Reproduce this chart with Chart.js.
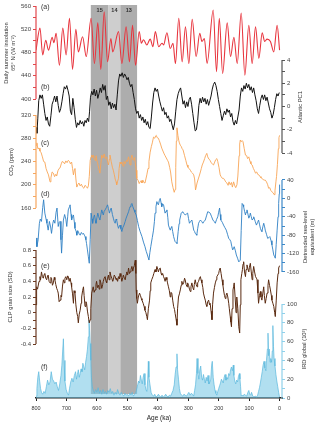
<!DOCTYPE html>
<html>
<head>
<meta charset="utf-8">
<script src="https://cdn.jsdelivr.net/npm/chart.js@4.4.0/dist/chart.umd.min.js"></script>
<style>
  body { margin: 0; background: #fff; }
  #wrap { position: relative; width: 320px; height: 425px; }
  #wrap canvas { position: absolute; left: 0; top: 0; }
</style>
</head>
<body>
<div id="wrap">
  <canvas id="cBase" width="320" height="425"></canvas>
  <canvas id="cA" width="320" height="425"></canvas>
  <canvas id="cB" width="320" height="425"></canvas>
  <canvas id="cC" width="320" height="425"></canvas>
  <canvas id="cD" width="320" height="425"></canvas>
  <canvas id="cE" width="320" height="425"></canvas>
</div>
<script>
// ---- data, [age ka, value] ----
const insolation = [[800,484],[787,522],[778,476],[768,501],[759,484],[747,506],[741,497],[734,513],[723,458],[712,522],[701,476],[690,539],[680,451],[669,520],[661,481],[647,507],[635,473],[619,539],[608,461],[597,531],[587,451],[576,550],[565,464],[554,504],[548,481],[529,516],[518,461],[504,524],[493,464],[483,527],[473,458],[461,516],[454,496],[447,502],[436,493],[425,503],[416,490],[408,516],[397,490],[386,496],[381,493],[370,514],[359,487],[350,496],[342,461],[331,539],[320,464],[309,524],[298,461],[287,537],[274,473],[262,513],[255,499],[247,504],[238,461],[218,553],[207,447],[198,539],[187,444],[172,531],[161,473],[150,506],[139,461],[126,548],[114,441],[101,527],[90,461],[79,524],[68,470],[57,514],[49,499],[41,503],[30,499],[19,481],[8,527],[0,484]];

const atlanticPC1 = [[800,-1.8],[797,-2.3],[794,-1.0],[791,0.5],[787,1.0],[783,0.7],[779,1.0],[775,0.2],[771,-0.6],[767,-1.2],[763,-0.9],[759,-1.5],[755,-1.7],[751,-0.8],[747,0.2],[743,0.5],[739,0.9],[735,0.4],[731,0.9],[727,0.1],[723,-0.5],[719,-0.2],[715,0.4],[711,1.1],[707,1.7],[703,1.5],[699,1.8],[695,1.4],[691,0.9],[687,-0.4],[683,-0.7],[679,0.7],[675,-0.1],[671,-1.1],[667,-1.8],[663,-1.4],[659,-1.6],[655,-1.2],[651,-1.5],[647,-1.3],[643,-1.7],[639,-1.2],[635,-1.4],[631,-1.0],[627,-1.3],[624,-0.4],[621,0.8],[617,1.3],[613,1.0],[609,1.5],[605,0.9],[601,1.4],[597,0.7],[593,1.1],[589,1.6],[585,1.2],[581,1.9],[577,1.4],[573,1.8],[569,0.6],[565,0.9],[561,0.1],[557,0.4],[553,-0.2],[549,0.3],[545,-0.1],[541,0.2],[537,-0.3],[533,1.0],[529,2.2],[525,2.8],[521,2.6],[517,2.9],[513,2.5],[509,2.8],[505,2.6],[501,2.3],[497,2.5],[493,2.0],[489,1.7],[485,1.9],[481,1.2],[477,0.6],[473,-0.2],[469,-0.6],[465,-0.4],[461,-1.0],[457,-0.7],[453,-1.2],[449,-0.9],[445,-1.4],[441,-1.1],[437,-1.6],[433,-1.3],[429,-1.8],[425,-1.9],[421,-0.9],[417,0.3],[413,1.2],[409,1.6],[405,1.3],[401,1.5],[397,0.9],[393,0.4],[389,0.0],[385,-0.4],[381,-0.1],[377,-0.7],[373,-0.5],[369,-1.0],[365,-0.8],[361,-1.3],[357,-1.1],[353,-1.6],[349,-2.0],[345,-1.5],[341,-0.4],[337,0.6],[333,1.1],[329,1.4],[325,1.6],[321,0.9],[317,0.2],[313,0.5],[309,-0.1],[305,0.4],[301,0.0],[297,0.6],[293,0.8],[289,0.2],[285,-0.6],[281,-1.4],[277,-2.1],[273,-2.0],[269,-1.2],[265,0.1],[261,0.7],[257,0.3],[253,0.8],[249,0.4],[245,0.7],[241,0.2],[237,0.6],[233,0.1],[229,0.5],[225,0.9],[221,1.5],[217,1.9],[213,2.1],[209,1.8],[205,1.3],[201,0.6],[197,0.0],[193,-0.6],[189,-1.2],[185,-0.8],[181,-0.4],[177,-0.7],[173,-0.2],[169,-0.5],[165,-0.3],[161,-0.9],[157,-0.6],[153,-1.3],[149,-1.6],[145,-1.2],[141,-1.5],[137,-0.9],[133,-0.3],[129,0.9],[125,1.6],[121,1.3],[117,1.8],[113,1.5],[109,2.0],[105,1.6],[101,1.9],[97,1.4],[93,1.7],[89,1.2],[85,1.6],[81,1.0],[77,0.5],[73,-0.2],[69,-0.6],[65,0.1],[61,0.7],[57,1.0],[53,0.6],[49,1.0],[45,0.5],[41,0.8],[37,0.3],[33,-0.2],[29,-0.5],[25,-1.0],[21,-0.7],[17,-0.1],[13,0.6],[9,1.1],[5,0.9],[1,1.2]];

const co2 = [[800,268],[797,272],[794,262],[790,263],[787,258],[783,255],[779,248],[775,240],[771,239],[767,228],[763,222],[759,217],[756,210],[754,205],[751,212],[747,222],[743,220],[739,214],[735,218],[732,215],[728,224],[724,228],[721,229],[717,236],[714,240],[710,239],[706,236],[702,241],[698,238],[694,242],[690,240],[687,236],[683,239],[680,228],[677,217],[674,226],[672,228],[669,210],[666,196],[663,200],[659,203],[655,198],[651,201],[647,196],[643,194],[639,199],[635,197],[631,194],[628,198],[625,214],[622,242],[619,248],[617,251],[614,247],[612,251],[609,245],[606,242],[603,250],[601,244],[598,238],[594,228],[590,220],[587,236],[584,251],[580,246],[576,253],[572,245],[568,248],[565,240],[562,234],[559,244],[557,251],[553,240],[549,230],[546,225],[543,218],[540,210],[537,205],[535,200],[532,206],[529,211],[527,228],[524,239],[521,236],[518,239],[514,232],[511,240],[507,236],[503,242],[500,240],[496,248],[493,240],[491,234],[488,245],[485,251],[482,244],[479,242],[476,247],[474,239],[471,225],[469,211],[465,208],[461,202],[458,205],[455,207],[452,203],[449,208],[446,204],[442,203],[439,210],[436,217],[432,228],[429,240],[425,256],[421,266],[418,272],[414,282],[410,280],[407,284],[405,285],[402,281],[398,280],[395,276],[391,270],[387,263],[383,258],[379,253],[376,250],[372,246],[368,242],[365,239],[361,230],[358,222],[354,205],[350,195],[346,187],[343,192],[341,230],[339,275],[337,298],[334,285],[331,276],[329,272],[326,268],[323,266],[320,262],[317,260],[315,260],[312,250],[308,242],[304,234],[301,230],[297,228],[293,225],[290,222],[286,220],[282,217],[279,210],[276,191],[273,198],[271,203],[267,210],[264,215],[260,222],[257,228],[254,234],[250,239],[246,245],[243,250],[239,254],[236,248],[232,244],[228,242],[225,238],[221,236],[217,234],[213,239],[210,243],[206,245],[203,240],[199,230],[195,217],[192,214],[188,211],[184,211],[180,208],[177,205],[173,203],[169,199],[166,205],[162,200],[158,204],[155,196],[151,205],[147,198],[144,195],[140,200],[137,215],[133,250],[131,270],[129,277],[126,274],[123,276],[120,274],[116,262],[112,251],[108,250],[105,245],[101,248],[97,240],[94,236],[90,234],[86,228],[83,225],[79,220],[75,222],[72,218],[68,217],[64,214],[61,212],[58,211],[54,209],[50,208],[47,208],[43,205],[39,200],[36,194],[32,195],[29,190],[25,188],[21,186],[18,183],[15,190],[12,205],[10,214],[7,235],[4,262],[2,281],[0,285]];

const seaLevel = [[800,-86],[797,-105],[793,-90],[789,-55],[786,-45],[782,-50],[778,-20],[775,-3],[771,-32],[767,-45],[764,-54],[760,-69],[756,-50],[752,-62],[749,-76],[745,-55],[742,-47],[738,-54],[734,-30],[731,-21],[727,-61],[724,-52],[721,-50],[718,-90],[716,-119],[713,-80],[710,-47],[706,-35],[702,-45],[699,-61],[696,-40],[694,-25],[690,-18],[688,-14],[685,-35],[683,-47],[680,-40],[677,-36],[674,-52],[672,-65],[668,-72],[666,-80],[663,-70],[661,-72],[658,-78],[655,-80],[651,-74],[647,-78],[644,-76],[641,-80],[639,-83],[636,-90],[634,-98],[631,-112],[628,-127],[625,-141],[622,-90],[619,-32],[616,-45],[614,-54],[611,-42],[608,-36],[605,-48],[603,-54],[600,-42],[597,-32],[594,-40],[590,-47],[587,-35],[584,-25],[581,-32],[579,-36],[576,-28],[573,-25],[569,-20],[565,-14],[562,-22],[559,-32],[556,-26],[553,-21],[549,-35],[546,-43],[543,-50],[540,-54],[537,-45],[535,-47],[532,-58],[529,-65],[526,-60],[524,-58],[521,-66],[518,-72],[515,-64],[511,-58],[507,-50],[504,-43],[500,-36],[496,-29],[493,-22],[491,-18],[488,-14],[485,-11],[482,-18],[478,-25],[475,-30],[471,-36],[467,-48],[463,-61],[458,-72],[452,-83],[447,-95],[442,-105],[438,-115],[434,-123],[429,-134],[426,-118],[423,-105],[418,-85],[414,-69],[411,-50],[409,-32],[406,-18],[403,-7],[400,-12],[398,-14],[395,-5],[392,0],[389,-10],[387,-18],[384,-12],[381,-14],[378,-25],[376,-32],[373,-28],[370,-25],[367,-42],[365,-58],[362,-64],[359,-69],[356,-63],[354,-61],[351,-72],[348,-83],[345,-90],[343,-94],[340,-96],[337,-98],[333,-72],[330,-55],[328,-47],[325,-38],[323,-32],[320,-30],[318,-29],[314,-33],[310,-36],[306,-34],[302,-32],[299,-44],[296,-54],[292,-50],[288,-47],[285,-58],[282,-69],[279,-72],[277,-76],[274,-78],[272,-80],[269,-66],[266,-54],[263,-50],[260,-47],[256,-50],[252,-54],[248,-50],[244,-47],[240,-38],[236,-29],[232,-30],[228,-32],[223,-40],[219,-47],[215,-50],[211,-54],[207,-46],[203,-40],[200,-30],[197,-21],[195,-35],[193,-47],[188,-52],[184,-58],[180,-63],[175,-69],[171,-78],[167,-87],[163,-90],[160,-94],[157,-104],[154,-112],[151,-108],[149,-105],[145,-114],[142,-123],[138,-130],[134,-138],[131,-136],[129,-134],[126,-70],[123,-11],[120,-14],[118,-18],[115,-28],[112,-36],[110,-30],[107,-25],[104,-34],[101,-43],[98,-38],[96,-32],[93,-40],[90,-47],[87,-44],[85,-40],[80,-50],[76,-58],[72,-52],[69,-47],[66,-56],[63,-65],[60,-70],[58,-72],[55,-62],[52,-54],[49,-62],[47,-69],[43,-78],[39,-87],[35,-85],[32,-83],[28,-92],[25,-101],[22,-112],[19,-123],[16,-127],[14,-130],[11,-100],[8,-69],[5,-40],[3,-11],[1,10],[0,30]];

const grainSize = [[800,0.10],[798,0.33],[795,0.30],[793,0.34],[790,0.40],[787,0.46],[785,0.42],[782,0.52],[779,0.46],[776,0.44],[773,0.49],[771,0.50],[768,0.44],[765,0.42],[762,0.47],[760,0.48],[757,0.40],[754,0.38],[751,0.45],[749,0.44],[746,0.35],[743,0.38],[740,0.45],[738,0.42],[735,0.36],[732,0.31],[729,0.28],[727,0.25],[724,0.14],[721,0.16],[718,0.22],[716,0.20],[713,0.34],[710,0.42],[707,0.38],[705,0.44],[702,0.46],[699,0.42],[696,0.47],[694,0.46],[691,0.40],[688,0.44],[685,0.38],[683,0.33],[680,0.24],[677,0.12],[675,0.28],[672,0.25],[669,0.10],[666,0.00],[663,-0.05],[661,-0.13],[658,-0.02],[655,0.03],[652,0.12],[650,0.20],[647,0.28],[644,0.33],[642,0.22],[639,0.08],[636,0.14],[634,0.12],[631,0.02],[628,-0.05],[625,-0.13],[622,-0.09],[620,0.05],[617,0.25],[614,0.30],[612,0.33],[609,0.26],[606,0.29],[603,0.36],[601,0.40],[598,0.32],[595,0.35],[592,0.30],[590,0.42],[587,0.38],[584,0.31],[581,0.36],[579,0.40],[576,0.44],[573,0.46],[570,0.40],[568,0.38],[565,0.44],[562,0.48],[560,0.42],[557,0.52],[554,0.47],[551,0.44],[548,0.40],[546,0.42],[543,0.48],[540,0.46],[537,0.42],[535,0.44],[532,0.40],[529,0.46],[526,0.43],[524,0.50],[521,0.46],[518,0.40],[515,0.45],[513,0.48],[510,0.44],[507,0.42],[504,0.49],[502,0.52],[499,0.48],[496,0.57],[493,0.50],[491,0.52],[488,0.55],[485,0.59],[482,0.53],[480,0.57],[477,0.60],[474,0.67],[472,0.50],[471,0.29],[469,0.18],[467,0.12],[464,0.20],[460,0.25],[457,0.22],[454,0.18],[452,0.16],[448,0.12],[445,0.08],[442,0.03],[439,0.00],[436,-0.05],[434,-0.09],[431,0.05],[427,0.16],[425,0.28],[423,0.38],[420,0.42],[416,0.46],[413,0.50],[409,0.55],[406,0.52],[403,0.59],[400,0.55],[398,0.52],[395,0.56],[392,0.57],[389,0.50],[387,0.48],[384,0.50],[381,0.46],[378,0.43],[376,0.40],[373,0.45],[370,0.42],[368,0.38],[365,0.33],[362,0.28],[359,0.20],[357,0.26],[354,0.25],[351,0.16],[348,0.08],[345,0.04],[343,-0.01],[340,-0.08],[337,-0.16],[335,0.05],[332,0.20],[329,0.24],[326,0.29],[323,0.35],[321,0.40],[318,0.36],[315,0.38],[312,0.44],[310,0.42],[307,0.36],[304,0.33],[302,0.38],[299,0.35],[296,0.30],[293,0.27],[291,0.33],[288,0.38],[285,0.32],[282,0.29],[280,0.36],[277,0.42],[274,0.36],[271,0.33],[269,0.38],[266,0.40],[263,0.44],[260,0.46],[258,0.42],[255,0.38],[252,0.32],[250,0.25],[247,0.20],[244,0.16],[241,0.10],[239,0.08],[236,0.14],[233,0.16],[230,0.10],[228,0.12],[225,0.02],[222,-0.09],[220,0.10],[217,0.25],[214,0.32],[211,0.38],[208,0.42],[206,0.46],[203,0.48],[200,0.50],[198,0.54],[195,0.57],[192,0.50],[189,0.42],[186,0.35],[184,0.29],[181,0.22],[178,0.18],[176,0.22],[173,0.25],[170,0.20],[167,0.12],[165,0.05],[162,-0.05],[160,-0.12],[158,-0.18],[156,0.05],[153,0.29],[151,0.33],[149,0.38],[146,0.20],[143,0.00],[141,0.12],[140,0.20],[137,0.05],[134,-0.18],[131,-0.26],[129,0.10],[127,0.42],[124,0.50],[122,0.55],[120,0.62],[118,0.65],[115,0.52],[112,0.46],[110,0.55],[107,0.61],[104,0.56],[101,0.52],[99,0.58],[96,0.63],[93,0.52],[90,0.42],[88,0.50],[85,0.59],[82,0.52],[79,0.46],[76,0.44],[74,0.42],[71,0.25],[69,0.12],[66,0.22],[63,0.27],[61,0.20],[58,0.16],[55,0.25],[52,0.33],[50,0.22],[47,0.12],[44,0.18],[41,0.25],[38,0.35],[36,0.42],[33,0.35],[30,0.29],[27,0.22],[25,0.16],[22,0.12],[19,0.08],[16,0.00],[14,-0.05],[11,0.15],[8,0.38],[5,0.50],[3,0.57],[0,0.60]];

const ird = [[800,2],[797,10],[794,22],[791,28],[788,18],[785,10],[782,6],[778,4],[774,7],[770,5],[766,12],[762,19],[758,14],[754,17],[750,28],[746,20],[742,18],[738,15],[734,17],[730,12],[726,8],[722,15],[718,24],[715,35],[712,52],[710,63],[708,40],[705,18],[701,9],[697,5],[693,3],[690,10],[686,17],[682,21],[678,17],[674,24],[670,28],[667,20],[664,25],[661,30],[658,22],[655,26],[652,31],[649,28],[646,37],[643,33],[640,30],[637,38],[634,44],[631,52],[628,65],[626,83],[624,72],[622,58],[620,40],[618,22],[615,12],[612,8],[608,5],[604,9],[600,6],[596,11],[592,5],[588,8],[584,4],[580,9],[576,5],[572,7],[568,4],[564,8],[560,6],[556,10],[552,5],[548,7],[544,3],[540,6],[536,4],[532,9],[528,5],[524,3],[520,6],[516,4],[512,2],[508,5],[504,3],[500,4],[496,2],[492,5],[488,3],[484,6],[480,2],[476,4],[472,6],[469,10],[466,14],[463,18],[460,16],[457,24],[454,19],[451,15],[448,22],[445,26],[442,14],[439,9],[436,7],[433,20],[431,39],[429,22],[426,15],[422,6],[418,3],[414,2],[410,4],[406,1],[402,2],[398,4],[394,2],[390,1],[386,3],[382,1],[378,2],[374,4],[370,2],[366,1],[362,3],[358,2],[354,5],[350,8],[346,14],[343,25],[340,33],[337,47],[335,30],[332,20],[329,10],[326,5],[322,3],[318,2],[314,4],[310,3],[306,2],[302,4],[298,6],[294,3],[290,5],[286,4],[282,2],[279,8],[276,14],[273,26],[271,42],[268,26],[265,20],[262,30],[259,34],[256,22],[253,19],[250,25],[247,20],[244,16],[241,22],[238,18],[235,24],[232,15],[229,17],[226,20],[223,35],[221,39],[218,22],[215,14],[212,8],[209,5],[206,3],[203,7],[200,10],[197,13],[194,16],[191,20],[188,18],[185,16],[182,22],[179,25],[176,19],[173,22],[170,20],[167,26],[164,24],[161,30],[158,33],[155,29],[152,35],[150,24],[147,18],[144,15],[141,19],[138,17],[135,23],[132,26],[130,20],[128,12],[126,2],[123,3],[120,2],[116,4],[112,3],[108,2],[104,6],[101,8],[98,4],[95,3],[92,6],[88,2],[84,1],[80,2],[76,1],[72,3],[69,7],[66,11],[63,16],[60,22],[57,28],[54,35],[51,39],[48,32],[45,29],[43,40],[40,52],[38,69],[36,45],[34,52],[31,38],[29,42],[26,38],[24,50],[22,77],[20,55],[18,42],[15,34],[12,25],[9,18],[6,12],[3,6],[0,1]];

// marine isotope stages shown as grey bands
const misNames = ['15', '14', '13'];
const misOlder = [620, 562, 523];
const misYounger = [562, 523, 468];

// tick labels
const ageTicks = [800, 700, 600, 500, 400, 300, 200, 100, 0];
const insoTicks = [400, 440, 480, 520, 560];
const pcTicks = [-4, -2, 0, 2, 4];
const co2Ticks = [160, 200, 240, 280, 320];
const seaTicks = [-160, -120, -80, -40, 0, 40];
const grainTicks = [-0.4, -0.2, 0, 0.2, 0.4, 0.6, 0.8];
const irdTicks = [0, 20, 40, 60, 80, 100];

const FONT = '"Liberation Sans", Arial, sans-serif';
Chart.defaults.font.family = FONT;
const AREA_TOP = 5, AREA_BOTTOM = 398, LEFT_W = 36, RIGHT_W = 38;

function xScale(show) {
  const cfg = {
    type: 'linear', min: -8, max: 800, reverse: true, display: show,
    afterBuildTicks: s => { s.ticks = ageTicks.map(v => ({value: v})); },
    border: {display: true, color: '#222', width: 1.4},
    grid: {drawOnChartArea: false, color: '#222', tickLength: 3},
    ticks: {autoSkip: false, maxRotation: 0, color: '#333', font: {size: 5.5}, padding: 4},
    title: {display: true, text: 'Age (ka)', color: '#222', font: {size: 6.5}, padding: {top: 0, bottom: 3}}
  };
  if (show) cfg.afterFit = s => { s.height = 425 - AREA_BOTTOM; s.paddingLeft = 0; s.paddingRight = 0; };
  return cfg;
}

// y axis whose values sit at the given pixel heights
function yAxis(side, color, top, bottom, majors, minorStep) {
  const k = (top[0] - bottom[0]) / (bottom[1] - top[1]);
  const lo = Math.min(...majors), hi = Math.max(...majors);
  return {
    position: side,
    max: top[0] + (top[1] - AREA_TOP) * k,
    min: bottom[0] - (AREA_BOTTOM - bottom[1]) * k,
    afterFit: s => { s.width = side === 'left' ? LEFT_W : RIGHT_W; s.paddingTop = 0; s.paddingBottom = 0; },
    afterBuildTicks: s => {
      const t = [];
      for (let v = lo; v <= hi + 1e-9; v += minorStep) t.push({value: v});
      s.ticks = t;
    },
    border: {display: false},
    grid: {drawOnChartArea: false, color: color, tickLength: 3},
    ticks: {
      autoSkip: false, color: '#444', font: {size: 6}, padding: 2,
      callback: v => {
        const m = majors.find(m => Math.abs(m - v) < minorStep / 10);
        return m === undefined ? '' : String(m);
      }
    },
    _axisColor: color, _lo: lo, _hi: hi
  };
}

const axisLinePlugin = {
  id: 'axisLine',
  afterDraw(chart) {
    const s = chart.scales.y;
    const o = s.options;
    const x = s.position === 'left' ? s.right : s.left;
    const ctx = chart.ctx;
    ctx.save();
    ctx.strokeStyle = o._axisColor;
    ctx.lineWidth = 1.2;
    ctx.beginPath();
    ctx.moveTo(x, s.getPixelForValue(o._hi));
    ctx.lineTo(x, s.getPixelForValue(o._lo));
    ctx.stroke();
    ctx.restore();
  }
};

const shadePlugin = {
  id: 'shade',
  beforeDatasetsDraw(chart) {
    const xs = chart.scales.x, ctx = chart.ctx;
    ctx.save();
    misNames.forEach((name, i) => {
      const x1 = xs.getPixelForValue(misOlder[i]);
      const x2 = xs.getPixelForValue(misYounger[i]);
      ctx.fillStyle = i === 1 ? '#cecece' : '#adadad';
      ctx.fillRect(x1, 5, x2 - x1, 389);
      ctx.fillStyle = '#333';
      ctx.font = 'bold 5.5px ' + FONT;
      ctx.textAlign = 'center';
      ctx.textBaseline = 'middle';
      ctx.fillText(name, (x1 + x2) / 2, 10);
    });
    ctx.restore();
  }
};

function vText(ctx, text, x, y, size) {
  ctx.save();
  ctx.translate(x, y);
  ctx.rotate(-Math.PI / 2);
  ctx.font = size + 'px ' + FONT;
  ctx.fillStyle = '#333';
  ctx.textAlign = 'center';
  ctx.textBaseline = 'middle';
  ctx.fillText(text, 0, 0);
  ctx.restore();
}

const labelPlugin = {
  id: 'labels',
  afterDraw(chart) {
    const ctx = chart.ctx;
    vText(ctx, 'Daily summer insolation', 6, 53, 5.8);
    vText(ctx, '65° N (W m⁻²)', 13, 53, 5.8);
    vText(ctx, 'CO₂ (ppm)', 11, 162, 5.8);
    vText(ctx, 'CLP grain size (SD)', 10, 297, 5.8);
    vText(ctx, 'Atlantic PC1', 300, 107, 5.8);
    vText(ctx, 'Detrended sea-level', 305, 237, 5.8);
    vText(ctx, 'equivalent (m)', 312, 237, 5.8);
    vText(ctx, 'IRD global (10³)', 304, 349, 5.8);
    ctx.save();
    ctx.font = '7px ' + FONT;
    ctx.fillStyle = '#333';
    ctx.textBaseline = 'middle';
    [['(a)', 7], ['(b)', 87], ['(c)', 143], ['(d)', 194], ['(e)', 266], ['(f)', 367]].forEach(l => {
      ctx.fillText(l[0], 41, l[1]);
    });
    ctx.restore();
  }
};

function lineSet(pairs, color, width, extra) {
  return Object.assign({
    data: pairs.map(p => ({x: p[0], y: p[1]})),
    borderColor: color, borderWidth: width, pointRadius: 0, tension: 0, fill: false
  }, extra || {});
}

function panel(id, dataset, yCfg, extraPlugins) {
  const left = yCfg.position === 'left';
  return new Chart(document.getElementById(id), {
    type: 'line',
    data: {datasets: [dataset]},
    options: {
      responsive: false, animation: false, devicePixelRatio: 1, events: [],
      layout: {padding: {top: AREA_TOP, bottom: 425 - AREA_BOTTOM, left: left ? 0 : LEFT_W, right: left ? RIGHT_W : 0}},
      scales: {x: xScale(false), y: yCfg},
      plugins: {legend: {display: false}, tooltip: {enabled: false}}
    },
    plugins: [axisLinePlugin].concat(extraPlugins || [])
  });
}

// base: shading, IRD and the age axis
new Chart(document.getElementById('cBase'), {
  type: 'line',
  data: {datasets: [lineSet(ird, '#5ab8dd', 0.7, {fill: 'origin', backgroundColor: 'rgba(125,202,230,0.6)'})]},
  options: {
    responsive: false, animation: false, devicePixelRatio: 1, events: [],
    layout: {padding: {top: AREA_TOP, bottom: 0, left: LEFT_W, right: 0}},
    scales: {x: xScale(true), y: yAxis('right', '#8fd0ea', [100, 304], [0, 398], irdTicks, 10)},
    plugins: {legend: {display: false}, tooltip: {enabled: false}}
  },
  plugins: [shadePlugin, axisLinePlugin]
});

panel('cA', lineSet(insolation, '#e8363f', 1.1, {cubicInterpolationMode: 'monotone'}),
  yAxis('left', '#e2474c', [560, 6], [400, 99], insoTicks, 20));
panel('cB', lineSet(atlanticPC1, '#111', 1.0),
  yAxis('right', '#555', [4, 60], [-4, 153], pcTicks, 1));
panel('cC', lineSet(co2, '#f8a556', 0.9),
  yAxis('left', '#f6a65e', [320, 115], [160, 208], co2Ticks, 20));
panel('cD', lineSet(seaLevel, '#2f80c4', 0.9),
  yAxis('right', '#3b88c8', [40, 180], [-160, 272], seaTicks, 20));
panel('cE', lineSet(grainSize, '#5a2a10', 1.0),
  yAxis('left', '#6b3a22', [0.8, 250], [-0.4, 344], grainTicks, 0.1), [labelPlugin]);
</script>
</body>
</html>
